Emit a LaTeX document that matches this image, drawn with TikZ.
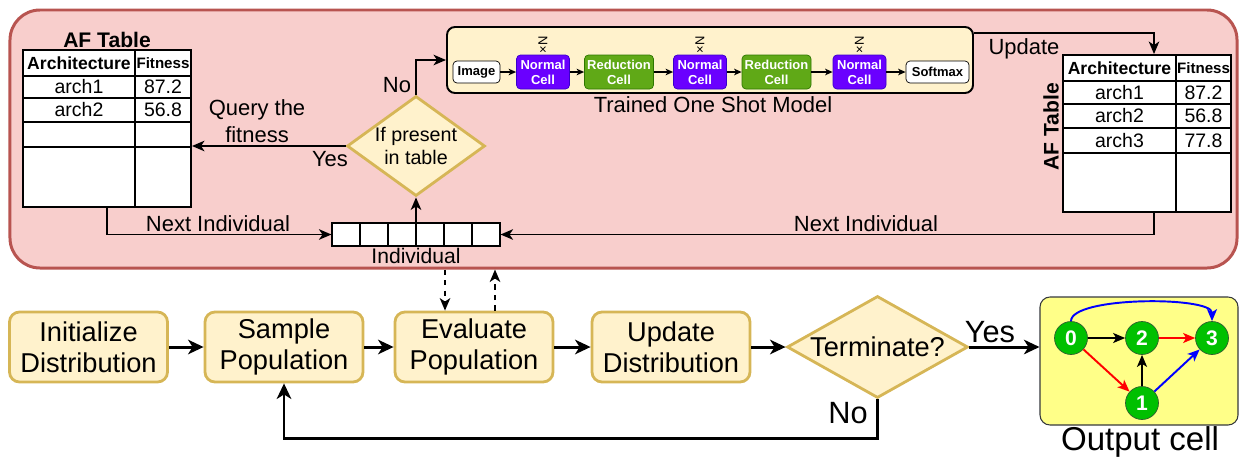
\documentclass[tikz,border=0pt]{standalone}
\usepackage{fontspec}
\setmainfont{Liberation Sans}
\usepackage{tikz}
\usetikzlibrary{shapes.geometric,arrows.meta}

\definecolor{pfill}{HTML}{F8CECC}
\definecolor{pdraw}{HTML}{B85450}
\definecolor{yfill}{HTML}{FFF2CC}
\definecolor{ydraw}{HTML}{D6B656}
\definecolor{purplefill}{HTML}{6A00FF}
\definecolor{purpledraw}{HTML}{3700CC}
\definecolor{greenfill}{HTML}{60A917}
\definecolor{greendraw}{HTML}{2D7600}
\definecolor{gfill}{HTML}{00C000}
\definecolor{gdraw}{HTML}{2F5F2F}
\definecolor{outfill}{HTML}{FFFF88}
\definecolor{outdraw}{HTML}{36393D}

\begin{document}
\begin{tikzpicture}[x=0.2mm,y=-0.2mm,>={Stealth[length=2.5mm,width=2.1mm,inset=0.7mm]},
  flowbox/.style={draw=ydraw,fill=yfill,line width=1.6pt,rounded corners=2mm,
    minimum width=31.6mm,minimum height=14mm,inner sep=0pt,align=center,
    font=\fontsize{15.5}{17.6}\selectfont},
  decide/.style={diamond,draw=ydraw,fill=yfill,line width=1.6pt,inner sep=0pt,align=center},
  tbl/.style={draw,fill=white,line width=1.1pt,minimum width=33.6mm,minimum height=31.4mm,inner sep=0pt},
  hd/.style={inner sep=0pt,font=\bfseries\fontsize{10}{12}\selectfont},
  hdsm/.style={inner sep=0pt,font=\bfseries\fontsize{8.6}{10}\selectfont},
  val/.style={inner sep=0pt,font=\fontsize{11.1}{13}\selectfont},
  lbl/.style={inner sep=0pt,align=center,font=\fontsize{12.5}{15.4}\selectfont},
  biglbl/.style={inner sep=0pt,font=\fontsize{17.5}{20}\selectfont},
  link/.style={line width=1.1pt},
  flow/.style={line width=1.7pt,>={Stealth[length=3.1mm,width=2.9mm,inset=0.9mm]}},
  inner/.style={line width=0.8pt,>={Stealth[length=1.5mm,width=1.3mm,inset=0.4mm]}},
  ncell/.style={draw=purpledraw,fill=purplefill,text=white,rounded corners=0.8mm,
    minimum width=10.6mm,minimum height=6.8mm,inner sep=0pt,align=center,
    font=\bfseries\fontsize{7.4}{8.6}\selectfont},
  rcell/.style={ncell,draw=greendraw,fill=greenfill,minimum width=13.8mm},
  iobox/.style={draw,fill=white,rounded corners=0.8mm,minimum height=4.4mm,inner sep=0pt,
    font=\bfseries\fontsize{7.4}{8.6}\selectfont},
  gnode/.style={circle,draw=gdraw,fill=gfill,text=white,minimum size=6.6mm,inner sep=0pt,
    font=\bfseries\fontsize{12}{14}\selectfont},
  gedge/.style={line width=1.1pt,>={Stealth[length=2.4mm,width=2mm,inset=0.6mm]}}]
  \useasboundingbox (0,0) rectangle (1239,458);

  % one shot evaluation region
  \node[draw=pdraw,fill=pfill,line width=1.7pt,rounded corners=6mm,
        minimum width=245.4mm,minimum height=51.6mm] (shotbg) at (623.5,139) {};

  % left AF table
  \node[inner sep=0pt,font=\bfseries\fontsize{12}{14}\selectfont] (titL) at (107,40) {AF Table};
  \node[tbl] (tabL) at (107,128.5) {};
  \draw[link] (135,50) -- (135,207);
  \foreach \y in {76,98,122,147} \draw[link] (23,\y) -- (191,\y);
  \node[hd] (hdLa) at (79,63) {Architecture};
  \node[hdsm] (hdLb) at (163,63) {Fitness};
  \node[val] (aLa) at (79,87) {arch1};
  \node[val] (aLb) at (163,87) {87.2};
  \node[val] (bLa) at (79,110) {arch2};
  \node[val] (bLb) at (163,110) {56.8};

  % right AF table
  \node[inner sep=0pt,rotate=90,font=\bfseries\fontsize{12}{14}\selectfont] (titR) at (1051,127) {AF Table};
  \node[tbl] (tabR) at (1147,133.5) {};
  \draw[link] (1176,55) -- (1176,212);
  \foreach \y in {81,104,128,153} \draw[link] (1063,\y) -- (1231,\y);
  \node[hd] (hdRa) at (1119.5,68) {Architecture};
  \node[hdsm] (hdRb) at (1203.5,68) {Fitness};
  \node[val] (aRa) at (1119.5,92.5) {arch1};
  \node[val] (aRb) at (1203.5,92.5) {87.2};
  \node[val] (bRa) at (1119.5,116) {arch2};
  \node[val] (bRb) at (1203.5,116) {56.8};
  \node[val] (cRa) at (1119.5,140.5) {arch3};
  \node[val] (cRb) at (1203.5,140.5) {77.8};

  % individual
  \node[draw,fill=white,line width=0.6pt,minimum width=33.6mm,minimum height=4.6mm,inner sep=0pt] (indiv) at (416,234.5) {};
  \foreach \x in {360,388,416,444,472} \draw[line width=0.6pt] (\x,223) -- (\x,246);
  \node[lbl,font=\fontsize{12}{14}\selectfont] (indivlbl) at (416,256) {Individual};

  \node[decide,aspect=1.38,minimum width=27.6mm,minimum height=20mm,
        font=\fontsize{11.2}{13.5}\selectfont] (pres) at (416,146) {If present\\in table};

  % trained one shot model
  \node[draw,fill=yfill,line width=1.1pt,rounded corners=1.6mm,
        minimum width=105.2mm,minimum height=13.2mm] (model) at (710,60) {};
  \node[iobox,minimum width=9.4mm] (img) at (476.5,72) {Image};
  \node[ncell] (nc1) at (543,72) {Normal\\Cell};
  \node[rcell] (rc1) at (619,72) {Reduction\\Cell};
  \node[ncell] (nc2) at (700,72) {Normal\\Cell};
  \node[rcell] (rc2) at (776.5,72) {Reduction\\Cell};
  \node[ncell] (nc3) at (859.5,72) {Normal\\Cell};
  \node[iobox,minimum width=12.6mm] (sm) at (937.5,72) {Softmax};
  \foreach \n in {nc1,nc2,nc3}
    \node[inner sep=0pt,rotate=90,font=\fontsize{7.4}{8}\selectfont] (rep\n) at (\n |- 0,45) {×N};
  \draw[inner,->] (img) -- (nc1);
  \draw[inner,->] (nc1) -- (rc1);
  \draw[inner,->] (rc1) -- (nc2);
  \draw[inner,->] (nc2) -- (rc2);
  \draw[inner,->] (rc2) -- (nc3);
  \draw[inner,->] (nc3) -- (sm);
  \node[lbl] (modellbl) at (713,105) {Trained One Shot Model};

  % connectors in the region
  \draw[link,->] (indiv.north) -- (pres.south);
  \draw[link,->] (pres.west) -- (pres.west -| tabL.east);
  \draw[link,->] (pres.north) |- (model.west);
  \draw[link,->] ([yshift=-1.4mm]model.north east) -| ([xshift=1.4mm]tabR.north);
  \draw[link,->] (tabL.south) |- (indiv.west);
  \draw[link,->] ([xshift=1.4mm]tabR.south) |- (indiv.east);
  \node[lbl] (querylbl) at (257,121) {Query the\\fitness};
  \node[lbl] (yeslbl) at (330,159) {Yes};
  \node[lbl] (nolbl) at (397,85) {No};
  \node[lbl] (updlbl) at (1024,49) {Update};
  \node[lbl] (nextL) at (218,224) {Next Individual};
  \node[lbl] (nextR) at (866,224) {Next Individual};

  % main loop
  \node[flowbox] (init) at (88.5,347) {Initialize\\Distribution};
  \node[flowbox] (samp) at (284,347) {Sample\\Population};
  \node[flowbox] (eval) at (474,347) {Evaluate\\Population};
  \node[flowbox] (upd) at (671,347) {Update\\Distribution};
  \node[decide,aspect=1.77,minimum width=36.2mm,minimum height=20.4mm,
        font=\fontsize{15.5}{17.6}\selectfont] (term) at (877.5,347) {Terminate?};
  \draw[flow,->] (init) -- (samp);
  \draw[flow,->] (samp) -- (eval);
  \draw[flow,->] (eval) -- (upd);
  \draw[flow,->] (upd) -- (term);
  \coordinate (evin) at ([xshift=-5.8mm]eval.north);
  \coordinate (evout) at ([xshift=4.2mm]eval.north);
  \draw[link,dashed,->] (evin |- shotbg.south) -- (evin);
  \draw[link,dashed,->] (evout) -- (evout |- shotbg.south);

  % output cell
  \node[draw=outdraw,fill=outfill,line width=0.6pt,rounded corners=2mm,
        minimum width=39.6mm,minimum height=25.6mm] (outbox) at (1139,361) {};
  \node[inner sep=0pt,font=\fontsize{18.8}{22}\selectfont] (outlbl) at (1140,442) {Output cell};
  \node[gnode] (g0) at (1071,338) {0};
  \node[gnode] (g2) at (1142,338) {2};
  \node[gnode] (g3) at (1212,338) {3};
  \node[gnode] (g1) at (1142,403) {1};
  \draw[gedge,->] (g0) -- (g2);
  \draw[gedge,red,->] (g2) -- (g3);
  \draw[gedge,red,->] (g0) -- (g1);
  \draw[gedge,->] (g1) -- (g2);
  \draw[gedge,blue,->] (g1) -- (g3);
  \draw[gedge,blue,->] (g0.north) .. controls +(0,-25) and +(0,-25) .. (g3.north);

  \draw[flow,->] (term.east) -- (term.east -| outbox.west);
  \draw[flow,->] (term.south) -- ++(0,39) -| (samp.south);
  \node[biglbl] (yesB) at (990,332) {Yes};
  \node[biglbl] (noB) at (848,413) {No};
\end{tikzpicture}
\end{document}
